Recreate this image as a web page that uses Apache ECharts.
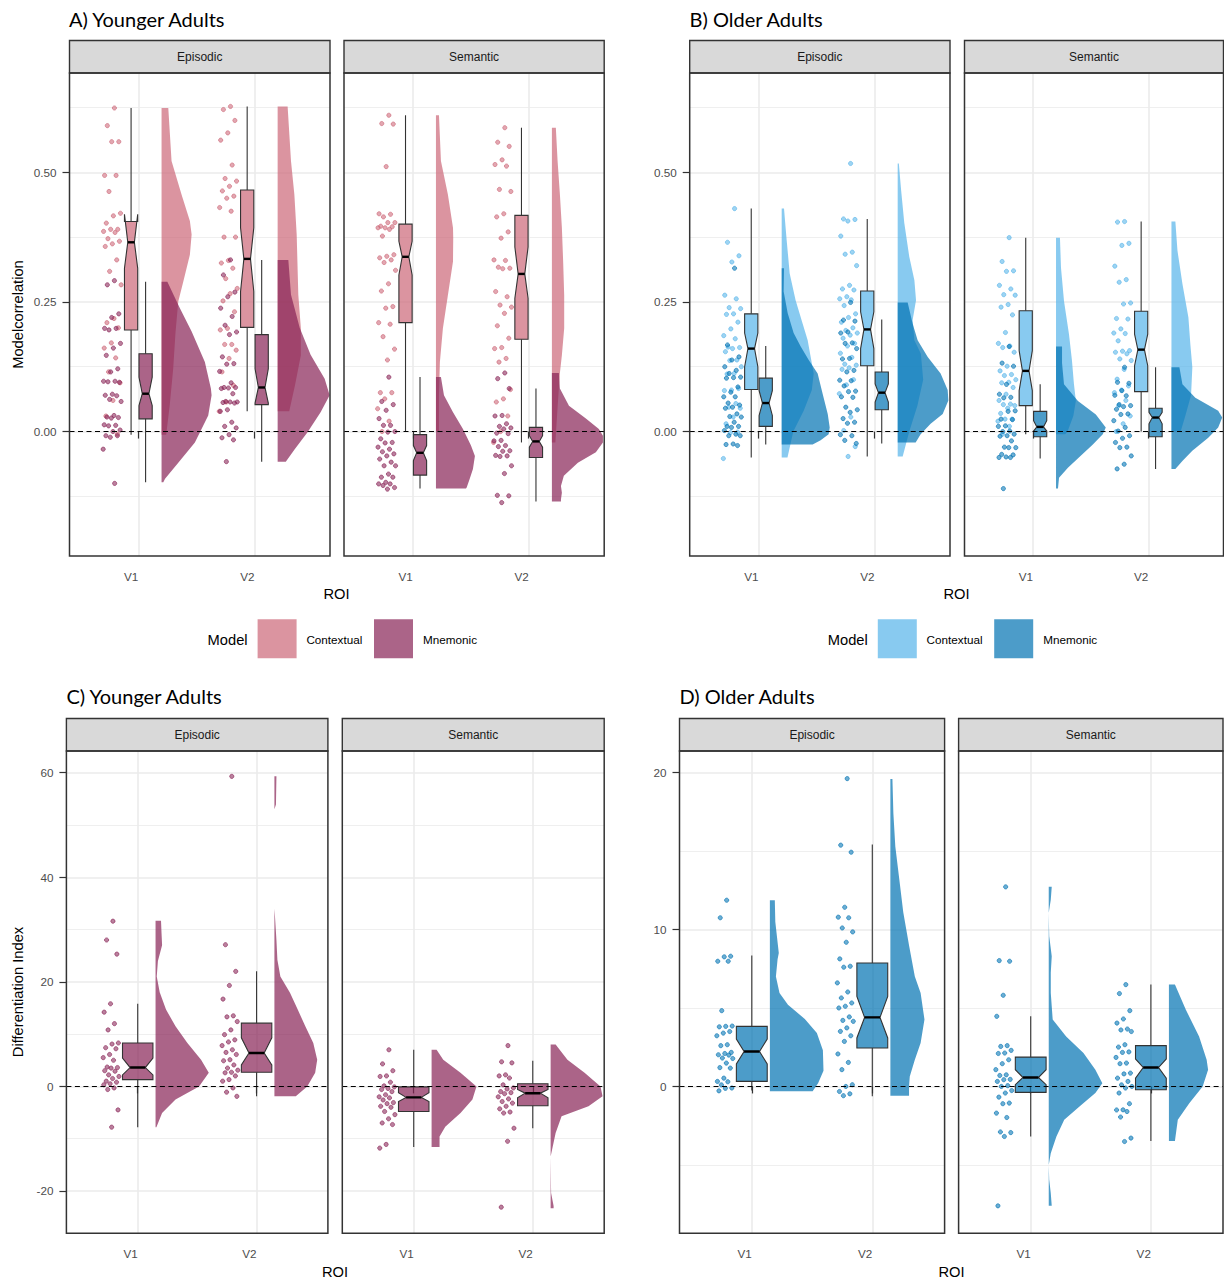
<!DOCTYPE html>
<html>
<head>
<meta charset="utf-8">
<script src="https://cdn.jsdelivr.net/npm/echarts@6/dist/echarts.min.js"></script>
<style>
html,body{margin:0;padding:0;background:#fff}
#main{width:1224px;height:1281px}
</style>
</head>
<body>
<div id="main"></div>
<script>
var roiNames = ['V1', 'V2'];
var modelNames = ['Contextual', 'Mnemonic'];
var facetNames = ['Episodic', 'Semantic'];

var corrTicks = [0, 0.25, 0.5];
var corrMinor = [-0.125, 0.125, 0.375, 0.625];
var youngDiffTicks = [-20, 0, 20, 40, 60];
var youngDiffMinor = [-10, 10, 30, 50];
var oldDiffTicks = [0, 10, 20];
var oldDiffMinor = [-5, 5, 15];

// ---- A) younger adults, model correlation (subject values)
var A_Epi_V1_Ctx = [0.624,0.59,0.559,0.559,0.494,0.494,0.463,0.421,0.416,0.402,0.39,0.39,0.386,0.384,0.372,0.367,0.362,0.357,0.331,0.309,0.283,0.218,0.21,0.2,0.171,0.161,0.142,0.115,0.094,0.06,0.03,-0.005];
var A_Epi_V1_Mne = [0.291,0.283,0.227,0.22,0.199,0.199,0.196,0.17,0.161,0.147,0.121,0.115,0.097,0.097,0.096,0.095,0.072,0.07,0.069,0.062,0.058,0.031,0.028,0.027,0.026,0.013,0.012,0.011,0.003,0.0,-0.008,-0.008,-0.011,-0.034,-0.1];
var A_Epi_V2_Ctx = [0.627,0.621,0.6,0.576,0.562,0.514,0.488,0.483,0.473,0.464,0.454,0.45,0.432,0.425,0.375,0.375,0.33,0.325,0.315,0.295,0.276,0.266,0.252,0.231,0.199,0.196,0.168,0.168,0.157,0.141,0.115,0.089,0.057,0.039];
var A_Epi_V2_Mne = [0.331,0.302,0.269,0.26,0.238,0.222,0.205,0.192,0.187,0.144,0.131,0.13,0.116,0.094,0.085,0.085,0.084,0.083,0.073,0.058,0.057,0.057,0.056,0.055,0.042,0.039,0.018,0.01,0.007,-0.006,-0.012,-0.016,-0.058];
var A_Sem_V1_Ctx = [0.61,0.594,0.593,0.511,0.42,0.419,0.414,0.403,0.403,0.396,0.395,0.393,0.393,0.39,0.377,0.341,0.338,0.335,0.331,0.326,0.311,0.285,0.271,0.241,0.238,0.21,0.207,0.183,0.159,0.138,0.075,0.075,0.063,0.044,0.02,0.0];
var A_Sem_V1_Mne = [0.105,0.058,0.052,0.041,0.025,0.012,0.012,0.0,-0.001,-0.014,-0.021,-0.022,-0.03,-0.034,-0.039,-0.043,-0.047,-0.053,-0.059,-0.066,-0.066,-0.082,-0.088,-0.088,-0.098,-0.101,-0.101,-0.104,-0.108,-0.111];
var A_Sem_V2_Ctx = [0.586,0.558,0.55,0.524,0.515,0.512,0.467,0.463,0.42,0.414,0.385,0.373,0.331,0.33,0.317,0.315,0.314,0.27,0.26,0.244,0.24,0.228,0.204,0.18,0.162,0.16,0.141,0.134,0.081,0.063,0.057,0.03,0.0,-0.021];
var A_Sem_V2_Mne = [0.113,0.102,0.083,0.031,0.03,0.015,0.01,0.007,0.005,-0.003,-0.004,-0.017,-0.018,-0.027,-0.029,-0.037,-0.038,-0.046,-0.047,-0.048,-0.066,-0.081,-0.123,-0.124,-0.137];

// ---- B) older adults, model correlation
var B_Epi_V1_Ctx = [0.43,0.365,0.339,0.327,0.263,0.256,0.239,0.237,0.227,0.226,0.211,0.198,0.185,0.179,0.163,0.162,0.16,0.154,0.138,0.137,0.125,0.112,0.111,0.083,0.08,0.079,0.054,0.047,0.045,0.028,0.015,-0.001,-0.002,-0.052];
var B_Epi_V1_Mne = [0.315,0.167,0.144,0.138,0.125,0.118,0.112,0.105,0.104,0.103,0.086,0.076,0.067,0.067,0.055,0.051,0.047,0.045,0.034,0.029,0.028,0.018,0.01,0.01,0.008,0.002,-0.005,-0.008,-0.008,-0.024,-0.025,-0.027];
var B_Epi_V2_Ctx = [0.517,0.41,0.409,0.406,0.377,0.346,0.342,0.32,0.282,0.275,0.273,0.26,0.256,0.254,0.243,0.227,0.22,0.211,0.2,0.195,0.19,0.186,0.18,0.17,0.165,0.151,0.143,0.13,0.128,0.123,0.12,0.1,0.09,0.073,0.028,0.002,-0.029,-0.048];
var B_Epi_V2_Mne = [0.249,0.215,0.213,0.192,0.19,0.171,0.17,0.16,0.141,0.14,0.118,0.115,0.099,0.098,0.088,0.078,0.077,0.067,0.066,0.047,0.042,0.037,0.025,0.018,0.016,-0.006,-0.008,-0.017,-0.023];
var B_Sem_V1_Ctx = [0.374,0.328,0.31,0.309,0.282,0.275,0.264,0.263,0.245,0.24,0.225,0.191,0.17,0.165,0.162,0.153,0.126,0.117,0.11,0.108,0.1,0.095,0.094,0.085,0.072,0.06,0.053,0.052,0.05,0.045,0.035,0.024,0.024,0.02,0.01,-0.005];
var B_Sem_V1_Mne = [0.164,0.132,0.126,0.091,0.072,0.066,0.065,0.04,0.039,0.024,0.023,0.011,0.01,0.001,0.0,-0.005,-0.008,-0.009,-0.018,-0.03,-0.031,-0.031,-0.044,-0.045,-0.049,-0.05,-0.05,-0.11];
var B_Sem_V2_Ctx = [0.405,0.404,0.363,0.359,0.319,0.293,0.288,0.248,0.246,0.218,0.217,0.198,0.19,0.189,0.175,0.156,0.155,0.153,0.15,0.14,0.137,0.12,0.101,0.088,0.08,0.075,0.06,0.05,0.03,0.015,0.0];
var B_Sem_V2_Mne = [0.124,0.095,0.093,0.079,0.07,0.069,0.052,0.05,0.048,0.043,0.034,0.033,0.021,0.008,0.001,-0.008,-0.013,-0.021,-0.03,-0.031,-0.047,-0.063,-0.072];

// ---- C) younger adults, differentiation index
var C_Epi_V1 = [31.6,28.0,25.3,15.8,14.2,12.0,10.8,8.3,8.1,7.4,7.2,6.1,5.5,5.0,3.7,3.6,3.5,3.0,2.9,2.2,1.9,1.5,1.0,0.8,0.5,0.3,-0.3,-0.6,-4.5,-7.8];
var C_Epi_V2 = [59.3,27.1,22.0,19.3,16.7,13.5,13.3,12.4,10.8,9.9,8.9,8.5,7.8,7.0,6.5,6.1,5.1,4.9,4.1,3.5,3.1,2.7,2.6,2.0,1.3,1.0,-0.3,-1.1,-1.9];
var C_Sem_V1 = [7.0,4.3,3.0,2.0,1.9,0.8,0.1,-0.1,-0.4,-0.6,-1.0,-1.6,-2.0,-2.2,-2.6,-3.1,-3.3,-3.8,-4.0,-4.8,-5.4,-6.2,-7.0,-7.3,-11.1,-11.8];
var C_Sem_V2 = [7.8,4.7,4.5,2.2,2.0,1.6,0.3,-0.3,-0.5,-1.0,-1.2,-1.4,-2.0,-2.4,-2.9,-3.2,-3.8,-4.3,-4.9,-5.1,-8.0,-10.5,-23.1];

// ---- D) older adults, differentiation index
var D_Epi_V1 = [11.87,10.75,8.3,8.26,7.98,7.98,4.83,3.85,3.83,3.8,3.5,3.4,3.23,2.66,2.6,2.17,2.1,2.02,2.0,1.81,1.78,1.49,1.2,1.17,0.53,0.32,0.3,0.1,-0.1,-0.12,-0.28];
var D_Epi_V2 = [19.62,15.38,14.93,11.42,10.79,10.75,10.1,9.85,9.19,8.13,7.66,7.6,6.6,6.02,5.64,5.32,5.11,5.0,4.43,4.21,4.15,3.73,3.51,3.23,2.87,2.07,1.53,1.07,0.11,0.0,-0.32,-0.47,-0.59];
var D_Sem_V1 = [12.72,8.02,7.98,5.81,4.47,2.6,2.55,2.3,2.13,2.1,1.7,1.45,1.07,0.74,0.7,0.45,0.43,0.32,0.05,0.0,-0.26,-0.42,-0.68,-1.06,-1.1,-1.7,-1.98,-2.9,-2.94,-3.19,-7.61];
var D_Sem_V2 = [6.49,5.92,4.83,4.3,4.04,3.66,3.6,3.5,2.66,2.51,2.2,2.17,1.85,1.49,1.45,0.85,0.8,0.53,0.32,0.1,0.0,-0.1,-0.42,-1.1,-1.49,-1.5,-1.6,-1.95,-3.29,-3.51];

// box stats: [lower whisker, q1, notch low, median, notch high, q3, upper whisker]
var boxA_Epi_V1_Ctx = [-0.006,0.196,0.315,0.365,0.419,0.405,0.624];
var boxA_Epi_V1_Mne = [-0.098,0.0245,0.05,0.073,0.105,0.15,0.289];
var boxA_Epi_V2_Ctx = [0.039,0.201,0.27,0.333,0.393,0.466,0.627];
var boxA_Epi_V2_Mne = [-0.058,0.052,0.055,0.085,0.121,0.187,0.331];
var boxA_Sem_V1_Ctx = [0.0,0.21,0.302,0.337,0.367,0.40,0.61];
var boxA_Sem_V1_Mne = [-0.11,-0.084,-0.056,-0.041,-0.027,-0.006,0.105];
var boxA_Sem_V2_Ctx = [-0.021,0.178,0.257,0.304,0.356,0.417,0.586];
var boxA_Sem_V2_Mne = [-0.135,-0.05,-0.03,-0.019,-0.008,0.008,0.083];
var boxB_Epi_V1_Ctx = [-0.05,0.081,0.125,0.16,0.19,0.227,0.43];
var boxB_Epi_V1_Mne = [-0.025,0.01,0.031,0.055,0.079,0.103,0.165];
var boxB_Epi_V2_Ctx = [-0.048,0.127,0.16,0.197,0.231,0.271,0.41];
var boxB_Epi_V2_Mne = [-0.023,0.042,0.057,0.075,0.092,0.115,0.216];
var boxB_Sem_V1_Ctx = [-0.005,0.05,0.079,0.117,0.156,0.233,0.374];
var boxB_Sem_V1_Mne = [-0.052,-0.01,0.001,0.009,0.021,0.039,0.091];
var boxB_Sem_V2_Ctx = [0.0,0.077,0.127,0.158,0.188,0.232,0.405];
var boxB_Sem_V2_Mne = [-0.072,-0.01,0.015,0.027,0.037,0.045,0.124];
var boxC_Epi_V1 = [-7.8,1.3,2.2,3.6,5.4,8.3,15.8];
var boxC_Epi_V2 = [-1.9,2.7,4.1,6.4,9.3,12.1,22.0];
var boxC_Sem_V1 = [-11.6,-4.8,-2.9,-2.1,-1.2,-0.1,7.0];
var boxC_Sem_V2 = [-8.0,-3.7,-2.2,-1.3,-0.6,0.5,4.9];
var boxD_Epi_V1 = [-0.26,0.32,1.43,2.23,3.02,3.83,8.34];
var boxD_Epi_V2 = [-0.62,2.45,3.09,4.4,5.74,7.87,15.42];
var boxD_Sem_V1 = [-3.19,-0.38,0.11,0.57,1.07,1.87,4.47];
var boxD_Sem_V2 = [-3.47,-0.21,0.53,1.21,1.75,2.6,6.49];

// half-violin outlines: [value, density width in ROI units], top to bottom
var vioA_Epi_V1_Ctx = [[0.624,0.058],[0.522,0.086],[0.457,0.172],[0.406,0.244],[0.38,0.259],[0.341,0.244],[0.289,0.187],[0.251,0.144],[0.19,0.12],[0.12,0.1],[0.05,0.07],[-0.006,0.04]];
var vioA_Epi_V1_Mne = [[0.289,0.05],[0.238,0.158],[0.193,0.259],[0.134,0.373],[0.083,0.425],[0.07,0.431],[0.031,0.402],[-0.021,0.287],[-0.06,0.144],[-0.091,0.03],[-0.098,0.015]];
var vioA_Epi_V2_Ctx = [[0.627,0.086],[0.522,0.115],[0.457,0.144],[0.38,0.164],[0.264,0.178],[0.199,0.2],[0.147,0.2],[0.09,0.15],[0.039,0.1]];
var vioA_Epi_V2_Mne = [[0.331,0.092],[0.264,0.115],[0.2,0.19],[0.148,0.284],[0.102,0.405],[0.07,0.448],[0.037,0.37],[-0.001,0.259],[-0.034,0.147],[-0.058,0.07]];
var vioA_Sem_V1_Ctx = [[0.61,0.026],[0.522,0.043],[0.457,0.103],[0.393,0.147],[0.374,0.149],[0.328,0.147],[0.263,0.103],[0.199,0.06],[0.134,0.034],[0.07,0.026],[0.0,0.026]];
var vioA_Sem_V1_Mne = [[0.105,0.043],[0.07,0.069],[0.037,0.147],[0.005,0.233],[-0.027,0.302],[-0.047,0.336],[-0.072,0.319],[-0.092,0.29],[-0.108,0.265],[-0.11,0.259]];
var vioA_Sem_V2_Ctx = [[0.586,0.034],[0.522,0.049],[0.457,0.069],[0.393,0.086],[0.328,0.097],[0.263,0.106],[0.199,0.106],[0.147,0.086],[0.113,0.069],[0.05,0.05],[-0.021,0.03]];
var vioA_Sem_V2_Mne = [[0.113,0.06],[0.083,0.069],[0.05,0.147],[0.025,0.293],[0.005,0.405],[-0.008,0.44],[-0.021,0.44],[-0.04,0.379],[-0.06,0.224],[-0.085,0.103],[-0.105,0.078],[-0.118,0.086],[-0.131,0.078],[-0.135,0.078]];
var vioB_Epi_V1_Ctx = [[0.43,0.02],[0.369,0.043],[0.305,0.069],[0.253,0.12],[0.208,0.181],[0.176,0.224],[0.144,0.25],[0.112,0.276],[0.08,0.26],[0.04,0.19],[0.0,0.1],[-0.05,0.05]];
var vioB_Epi_V1_Mne = [[0.315,0.02],[0.27,0.017],[0.228,0.052],[0.19,0.103],[0.164,0.164],[0.138,0.233],[0.112,0.31],[0.073,0.353],[0.034,0.397],[0.008,0.414],[-0.005,0.405],[-0.017,0.336],[-0.025,0.267]];
var vioB_Epi_V2_Ctx = [[0.517,0.01],[0.467,0.029],[0.402,0.057],[0.337,0.1],[0.292,0.144],[0.253,0.158],[0.215,0.129],[0.176,0.144],[0.15,0.2],[0.1,0.22],[0.05,0.17],[0.0,0.1],[-0.048,0.043]];
var vioB_Epi_V2_Mne = [[0.249,0.086],[0.208,0.129],[0.176,0.172],[0.144,0.259],[0.112,0.37],[0.08,0.431],[0.06,0.437],[0.034,0.388],[0.015,0.284],[-0.005,0.198],[-0.021,0.155]];
var vioB_Sem_V1_Ctx = [[0.374,0.034],[0.316,0.043],[0.252,0.069],[0.188,0.112],[0.137,0.138],[0.092,0.155],[0.059,0.172],[0.03,0.15],[0.0,0.1],[-0.005,0.08]];
var vioB_Sem_V1_Mne = [[0.164,0.052],[0.132,0.052],[0.091,0.069],[0.059,0.19],[0.033,0.345],[0.008,0.431],[-0.005,0.405],[-0.025,0.319],[-0.05,0.198],[-0.07,0.103],[-0.089,0.026],[-0.11,0.017]];
var vioB_Sem_V2_Ctx = [[0.405,0.034],[0.349,0.052],[0.285,0.095],[0.22,0.147],[0.168,0.164],[0.124,0.181],[0.07,0.17],[0.03,0.12],[0.0,0.08]];
var vioB_Sem_V2_Mne = [[0.124,0.069],[0.091,0.095],[0.065,0.207],[0.04,0.405],[0.027,0.44],[0.008,0.405],[-0.012,0.319],[-0.037,0.181],[-0.057,0.095],[-0.072,0.034]];
var vioC_Epi_V1 = [[31.7,0.046],[29.5,0.05],[27,0.055],[24,0.02],[21,0.01],[18,0.035],[14.7,0.088],[11.5,0.168],[8.3,0.268],[5.1,0.383],[2.6,0.448],[0,0.366],[-2.5,0.168],[-5.1,0.055],[-7.8,0.007]];
var vioC_Epi_V2 = [[59.3,0.017],[53.9,0.013],[53,0],[34,0],[32.8,0.004],[28,0.017],[24.2,0.025],[21,0.05],[17.9,0.131],[14.7,0.196],[11.5,0.26],[8.3,0.327],[5.1,0.36],[2.6,0.343],[0,0.276],[-1.9,0.18]];
var vioC_Sem_V1 = [[7.0,0.042],[5.1,0.098],[2.6,0.243],[0,0.377],[-2.5,0.343],[-5.1,0.243],[-7.7,0.115],[-9.6,0.067],[-11.6,0.067]];
var vioC_Sem_V2 = [[8.0,0.042],[5.1,0.141],[2.6,0.285],[0,0.419],[-1.9,0.436],[-3.8,0.318],[-5.7,0.092],[-8.9,0.042],[-13.4,0],[-20.4,0.004],[-22.9,0.025],[-23.3,0.025]];
var vioD_Epi_V1 = [[11.87,0.041],[10.5,0.045],[8.5,0.074],[8.1,0.064],[7.0,0.05],[5.96,0.08],[5.2,0.15],[4.3,0.29],[3.4,0.39],[2.3,0.44],[1.0,0.445],[0.21,0.4],[-0.3,0.355]];
var vioD_Epi_V2 = [[19.6,0.017],[17.4,0.025],[15.3,0.041],[13.2,0.074],[11.1,0.107],[8.9,0.157],[7.0,0.203],[5.96,0.251],[4.26,0.283],[2.77,0.251],[1.7,0.203],[0.64,0.161],[0,0.155],[-0.6,0.155]];
var vioD_Sem_V1 = [[12.72,0.025],[11.9,0.017],[11.07,0],[9.57,0.004],[8.3,0.025],[7.24,0.017],[5.96,0.017],[4.26,0.033],[3.19,0.145],[2.13,0.289],[1.07,0.388],[0.21,0.446],[-0.42,0.388],[-1.28,0.256],[-2.13,0.129],[-3.19,0.064],[-4.25,0.017],[-5.0,0],[-5.95,0.004],[-6.8,0.017],[-7.6,0.025]];
var vioD_Sem_V2 = [[6.49,0.05],[4.9,0.14],[3.19,0.251],[1.7,0.314],[1.07,0.326],[0,0.281],[-1.06,0.171],[-2.13,0.074],[-3.47,0.05]];

var pinkPal = ['#CC6677', '#882255'];
var bluePal = ['#56B4E9', '#0072B2'];

window.onload = function(){
  var chart = echarts.init(document.getElementById('main'), null, {renderer: 'svg'});
  var font = '"Liberation Sans", Arial, sans-serif';

  function fade(hex, a){
    var n = parseInt(hex.slice(1), 16);
    return 'rgba(' + (n >> 16) + ',' + ((n >> 8) & 255) + ',' + (n & 255) + ',' + a + ')';
  }

  // facet layout (pixels) and scales
  var corr = {yMin:-0.24, yMax:0.6915, ticks:corrTicks, minor:corrMinor, dec:2, xMin:0.407, xMax:2.651, vio:0.2, two:true};
  var diffY = {yMin:-28.1, yMax:64.15, ticks:youngDiffTicks, minor:youngDiffMinor, dec:0, xMin:0.4, xMax:2.6, vio:0.15, two:false};
  var diffO = {yMin:-9.36, yMax:21.38, ticks:oldDiffTicks, minor:oldDiffMinor, dec:0, xMin:0.4, xMax:2.6, vio:0.15, two:false};
  var facets = [
    {s:corr, pal:pinkPal, left:69.5, top:73, width:260.5, height:483, strip:0, showY:true},
    {s:corr, pal:pinkPal, left:344, top:73, width:260.2, height:483, strip:1, showY:false},
    {s:corr, pal:bluePal, left:689.7, top:73, width:260.3, height:483, strip:0, showY:true},
    {s:corr, pal:bluePal, left:964.5, top:73, width:259, height:483, strip:1, showY:false},
    {s:diffY, pal:pinkPal, left:66.4, top:751, width:261.5, height:482.3, strip:0, showY:true},
    {s:diffY, pal:pinkPal, left:342.3, top:751, width:261.9, height:482.3, strip:1, showY:false},
    {s:diffO, pal:bluePal, left:679.5, top:751, width:265.1, height:482.3, strip:0, showY:true},
    {s:diffO, pal:bluePal, left:958.6, top:751, width:264.4, height:482.3, strip:1, showY:false}
  ];

  var groups = [
    {f:0, roi:0, model:0, pts:A_Epi_V1_Ctx, box:boxA_Epi_V1_Ctx, vio:vioA_Epi_V1_Ctx},
    {f:0, roi:1, model:0, pts:A_Epi_V2_Ctx, box:boxA_Epi_V2_Ctx, vio:vioA_Epi_V2_Ctx},
    {f:0, roi:0, model:1, pts:A_Epi_V1_Mne, box:boxA_Epi_V1_Mne, vio:vioA_Epi_V1_Mne},
    {f:0, roi:1, model:1, pts:A_Epi_V2_Mne, box:boxA_Epi_V2_Mne, vio:vioA_Epi_V2_Mne},
    {f:1, roi:0, model:0, pts:A_Sem_V1_Ctx, box:boxA_Sem_V1_Ctx, vio:vioA_Sem_V1_Ctx},
    {f:1, roi:1, model:0, pts:A_Sem_V2_Ctx, box:boxA_Sem_V2_Ctx, vio:vioA_Sem_V2_Ctx},
    {f:1, roi:0, model:1, pts:A_Sem_V1_Mne, box:boxA_Sem_V1_Mne, vio:vioA_Sem_V1_Mne},
    {f:1, roi:1, model:1, pts:A_Sem_V2_Mne, box:boxA_Sem_V2_Mne, vio:vioA_Sem_V2_Mne},
    {f:2, roi:0, model:0, pts:B_Epi_V1_Ctx, box:boxB_Epi_V1_Ctx, vio:vioB_Epi_V1_Ctx},
    {f:2, roi:1, model:0, pts:B_Epi_V2_Ctx, box:boxB_Epi_V2_Ctx, vio:vioB_Epi_V2_Ctx},
    {f:2, roi:0, model:1, pts:B_Epi_V1_Mne, box:boxB_Epi_V1_Mne, vio:vioB_Epi_V1_Mne},
    {f:2, roi:1, model:1, pts:B_Epi_V2_Mne, box:boxB_Epi_V2_Mne, vio:vioB_Epi_V2_Mne},
    {f:3, roi:0, model:0, pts:B_Sem_V1_Ctx, box:boxB_Sem_V1_Ctx, vio:vioB_Sem_V1_Ctx},
    {f:3, roi:1, model:0, pts:B_Sem_V2_Ctx, box:boxB_Sem_V2_Ctx, vio:vioB_Sem_V2_Ctx},
    {f:3, roi:0, model:1, pts:B_Sem_V1_Mne, box:boxB_Sem_V1_Mne, vio:vioB_Sem_V1_Mne},
    {f:3, roi:1, model:1, pts:B_Sem_V2_Mne, box:boxB_Sem_V2_Mne, vio:vioB_Sem_V2_Mne},
    {f:4, roi:0, model:1, pts:C_Epi_V1, box:boxC_Epi_V1, vio:vioC_Epi_V1},
    {f:4, roi:1, model:1, pts:C_Epi_V2, box:boxC_Epi_V2, vio:vioC_Epi_V2},
    {f:5, roi:0, model:1, pts:C_Sem_V1, box:boxC_Sem_V1, vio:vioC_Sem_V1},
    {f:5, roi:1, model:1, pts:C_Sem_V2, box:boxC_Sem_V2, vio:vioC_Sem_V2},
    {f:6, roi:0, model:1, pts:D_Epi_V1, box:boxD_Epi_V1, vio:vioD_Epi_V1},
    {f:6, roi:1, model:1, pts:D_Epi_V2, box:boxD_Epi_V2, vio:vioD_Epi_V2},
    {f:7, roi:0, model:1, pts:D_Sem_V1, box:boxD_Sem_V1, vio:vioD_Sem_V1},
    {f:7, roi:1, model:1, pts:D_Sem_V2, box:boxD_Sem_V2, vio:vioD_Sem_V2}
  ];

  function renderViolin(params, api){
    var g = groups[api.value(2)];
    var f = facets[g.f];
    var x0 = g.roi + 1 + f.s.vio;
    var pts = [];
    g.vio.forEach(function(p){ pts.push(api.coord([x0 + p[1], p[0]])); });
    pts.push(api.coord([x0, g.vio[g.vio.length - 1][0]]));
    pts.push(api.coord([x0, g.vio[0][0]]));
    return {type:'polygon', shape:{points:pts}, style:{fill:fade(f.pal[g.model], 0.7)}};
  }

  function renderBox(params, api){
    var g = groups[api.value(2)];
    var f = facets[g.f];
    var b = g.box;
    var xc = g.roi + 1 + (f.s.two ? (g.model === 0 ? -0.0625 : 0.0625) : 0);
    var hw = f.s.two ? 0.057 : 0.128;
    var xl = xc - hw, xr = xc + hw, ni = hw * 0.5;
    function P(x, y){ return api.coord([x, y]); }
    var poly = [P(xl,b[5]), P(xl,b[4]), P(xl+ni,b[3]), P(xl,b[2]), P(xl,b[1]),
                P(xr,b[1]), P(xr,b[2]), P(xr-ni,b[3]), P(xr,b[4]), P(xr,b[5])];
    var lo = P(xc, b[0]), q1 = P(xc, b[1]), q3 = P(xc, b[5]), hi = P(xc, b[6]);
    var m1 = P(xl + ni, b[3]), m2 = P(xr - ni, b[3]);
    var line = {stroke:'#333', lineWidth:1.1};
    return {type:'group', children:[
      {type:'line', shape:{x1:lo[0], y1:lo[1], x2:q1[0], y2:q1[1]}, style:line},
      {type:'line', shape:{x1:q3[0], y1:q3[1], x2:hi[0], y2:hi[1]}, style:line},
      {type:'polygon', shape:{points:poly}, style:{fill:fade(f.pal[g.model], 0.7), stroke:'#333', lineWidth:1.1}},
      {type:'line', shape:{x1:m1[0], y1:m1[1], x2:m2[0], y2:m2[1]}, style:{stroke:'#000', lineWidth:2.4}}
    ]};
  }

  var grid = [], xAxis = [], yAxis = [], series = [], graphic = [];
  var gridLine = {color:'#EBEBEB', width:1.6};

  facets.forEach(function(f, i){
    var s = f.s;
    grid.push({left:f.left, top:f.top, width:f.width, height:f.height, outerBoundsMode:'none'});
    xAxis.push({
      gridIndex:i, type:'value', min:s.xMin, max:s.xMax,
      axisLine:{show:false},
      axisTick:{show:true, customValues:[1, 2], length:7, lineStyle:{color:'#333', width:1.2}},
      axisLabel:{customValues:[1, 2], formatter:function(v){ return roiNames[Math.round(v) - 1]; },
        align:'right', margin:14, color:'#4D4D4D', fontSize:11.7, fontFamily:font},
      splitLine:{show:true, lineStyle:gridLine}
    });
    yAxis.push({
      gridIndex:i, type:'value', min:s.yMin, max:s.yMax,
      axisLine:{show:false},
      axisTick:{show:f.showY, customValues:s.ticks, length:7, lineStyle:{color:'#333', width:1.2}},
      axisLabel:{show:f.showY, customValues:s.ticks, formatter:function(v){ return v.toFixed(s.dec); },
        margin:13, color:'#4D4D4D', fontSize:11.7, fontFamily:font},
      splitLine:{show:true, lineStyle:gridLine}
    });
    yAxis.push({
      gridIndex:i, type:'value', min:s.yMin, max:s.yMax,
      axisLine:{show:false},
      axisTick:{show:false, customValues:s.minor},
      axisLabel:{show:false},
      splitLine:{show:true, lineStyle:{color:'#EFEFEF', width:1}}
    });

    var mine = [];
    groups.forEach(function(g, gi){ if (g.f === i) mine.push(gi); });

    series.push({
      type:'custom', xAxisIndex:i, yAxisIndex:2 * i, z:2, silent:true, clip:true,
      renderItem:renderViolin,
      data:mine.map(function(gi){ return [groups[gi].roi + 1, groups[gi].box[3], gi]; })
    });

    mine.forEach(function(gi){
      var g = groups[gi];
      var c = f.pal[g.model];
      series.push({
        type:'scatter', name:modelNames[g.model], xAxisIndex:i, yAxisIndex:2 * i, z:3, silent:true,
        symbol:'circle', symbolSize:4.2,
        itemStyle:{color:fade(c, 0.72), borderColor:fade(c, 0.85), borderWidth:0.9},
        data:g.pts.map(function(v, k){
          var jit = (((k + 1) * 0.6180339887) % 1 - 0.5) * (s.two ? 0.16 : 0.14);
          return [g.roi + 1 - 0.225 + jit, v];
        })
      });
    });

    series.push({
      type:'custom', xAxisIndex:i, yAxisIndex:2 * i, z:4, silent:true, clip:true,
      renderItem:renderBox,
      data:mine.map(function(gi){ return [groups[gi].roi + 1, groups[gi].box[3], gi]; })
    });

    series.push({
      type:'line', xAxisIndex:i, yAxisIndex:2 * i, z:5, data:[], silent:true,
      markLine:{silent:true, symbol:['none', 'none'], label:{show:false},
        lineStyle:{color:'#000', type:[5, 3.5], width:1.1}, data:[{yAxis:0}]}
    });

    // facet strip and panel border
    var stripTop = f.top - 32.5;
    graphic.push({type:'rect', z:100, shape:{x:f.left, y:stripTop, width:f.width, height:32.5},
      style:{fill:'#D9D9D9', stroke:'#333', lineWidth:1.4}});
    graphic.push({type:'text', z:101, x:f.left + f.width / 2, y:stripTop + 16.5,
      style:{text:facetNames[f.strip], fontSize:12, fontFamily:font, fill:'#1A1A1A', align:'center', verticalAlign:'middle'}});
    graphic.push({type:'rect', z:100, shape:{x:f.left, y:f.top, width:f.width, height:f.height},
      style:{fill:null, stroke:'#333', lineWidth:1.5}});
  });

  // panel titles
  var titles = [['A) Younger Adults', 69, 18.5], ['B) Older Adults', 689.5, 18.5],
                ['C) Younger Adults', 66.4, 696], ['D) Older Adults', 679.5, 696]];
  titles.forEach(function(t){
    graphic.push({type:'text', z:101, x:t[1], y:t[2],
      style:{text:t[0], fontSize:20, fontFamily:'Lato, "Open Sans", sans-serif', fill:'#000', align:'left', verticalAlign:'middle'}});
  });

  // axis titles
  [[336.5, 594], [956.5, 594], [335, 1271.5], [951.5, 1271.5]].forEach(function(p){
    graphic.push({type:'text', z:101, x:p[0], y:p[1],
      style:{text:'ROI', fontSize:14.7, fontFamily:font, fill:'#000', align:'center', verticalAlign:'middle'}});
  });
  graphic.push({type:'text', z:101, x:18, y:314.5, rotation:Math.PI / 2,
    style:{text:'Modelcorrelation', fontSize:14.7, fontFamily:font, fill:'#000', align:'center', verticalAlign:'middle'}});
  graphic.push({type:'text', z:101, x:18, y:992, rotation:Math.PI / 2,
    style:{text:'Differentiation Index', fontSize:14.7, fontFamily:font, fill:'#000', align:'center', verticalAlign:'middle'}});

  // legends
  function legend(x, pal){
    graphic.push({type:'text', z:101, x:x, y:640,
      style:{text:'Model', fontSize:14.7, fontFamily:font, fill:'#000', align:'left', verticalAlign:'middle'}});
    var keys = [[x + 50, x + 98.8], [x + 166.4, x + 215.5]];
    keys.forEach(function(k, m){
      graphic.push({type:'rect', z:101, shape:{x:k[0], y:619.3, width:39, height:39},
        style:{fill:fade(pal[m], 0.7)}});
      graphic.push({type:'text', z:101, x:k[1], y:639.5,
        style:{text:modelNames[m], fontSize:11.7, fontFamily:font, fill:'#000', align:'left', verticalAlign:'middle'}});
    });
  }
  legend(207.6, pinkPal);
  legend(827.8, bluePal);

  chart.setOption({
    animation:false,
    textStyle:{fontFamily:font},
    grid:grid, xAxis:xAxis, yAxis:yAxis, series:series, graphic:graphic
  });
};
</script>
</body>
</html>
